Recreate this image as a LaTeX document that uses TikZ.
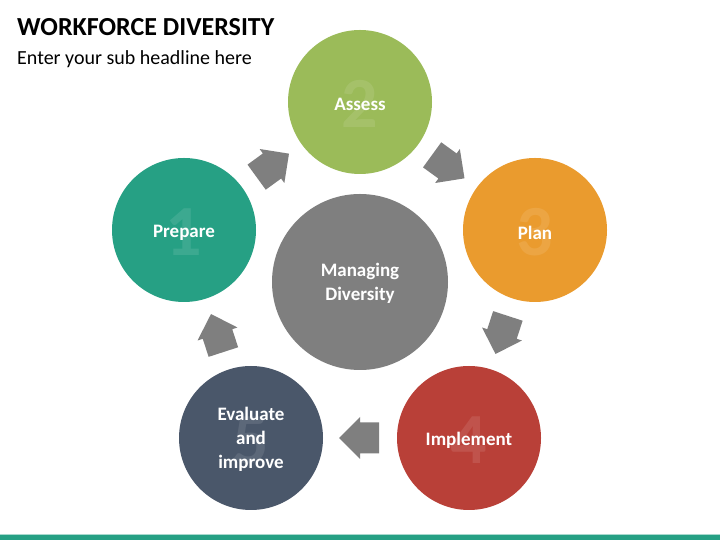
\documentclass[tikz,border=0pt]{standalone}
\usepackage{fontspec}
\setmainfont{Carlito}
\usetikzlibrary{calc}
\definecolor{cteal}{RGB}{38,160,132}
\definecolor{cgreen}{RGB}{155,187,89}
\definecolor{corange}{RGB}{234,155,46}
\definecolor{cred}{RGB}{185,64,56}
\definecolor{cslate}{RGB}{74,87,106}
\definecolor{cgray}{RGB}{127,127,127}
\begin{document}
\begin{tikzpicture}[x=1pt,y=1pt]
\tikzset{
  stagecircle/.style={circle, minimum size=144pt, inner sep=0pt, fill=#1},
  digit/.style={font=\fontsize{72}{72}\selectfont\bfseries, text=white, text opacity=0.1, inner sep=0pt},
  stagetext/.style={font=\fontsize{19}{24}\selectfont\bfseries, text=white, align=center, inner sep=0pt},
  flowarrow/.style={fill=cgray},
}
\useasboundingbox (0,0) rectangle (720,540);
\fill[white] (0,0) rectangle (720,540);
% title
\node[anchor=base west, inner sep=0pt, font=\fontsize{26}{30}\selectfont\bfseries] (title) at (17,504) {WORKFORCE DIVERSITY};
\node[anchor=base west, inner sep=0pt, font=\fontsize{20}{24}\selectfont] (subtitle) at (17,475) {Enter your sub headline here};
% bottom bar
\fill[cteal] (0,0) rectangle (720,5.5);
\draw[cteal!40, line width=0.6pt] (0,6) -- (720,6);
% stages
\node[stagecircle=cgreen] (assess) at (360,438) {};
\node[stagecircle=corange] (plan) at (535,310) {};
\node[stagecircle=cred] (implement) at (469,102) {};
\node[stagecircle=cslate] (evaluate) at (251,102) {};
\node[stagecircle=cteal] (prepare) at (184,310) {};
\node[circle, minimum size=176pt, inner sep=0pt, fill=cgray] (center) at (360,258) {};
% digits
\node[digit] (d1) at ($(prepare)+(0,-2)$) {1};
\node[digit] (d2) at ($(assess)+(0,-2)$) {2};
\node[digit] (d3) at ($(plan)+(0,-2)$) {3};
\node[digit] (d4) at ($(implement)+(0,-2)$) {4};
\node[digit] (d5) at ($(evaluate)+(0,-2)$) {5};
% labels
\node[stagetext] (lprepare) at ($(prepare)+(0,-2.5)$) {Prepare};
\node[stagetext] (lassess) at ($(assess)+(0,-2.5)$) {Assess};
\node[stagetext] (lplan) at ($(plan)+(0,-2.5)$) {Plan};
\node[stagetext] (limplement) at ($(implement)+(0,-2)$) {Implement};
\node[stagetext] (levaluate) at ($(evaluate)+(0,-1.5)$) {Evaluate\\and\\improve};
\node[stagetext] (lcenter) at ($(center)+(0,-1.5)$) {Managing\\Diversity};
% arrows
\coordinate (m1) at ($(prepare)!0.5!(assess)$);
\coordinate (m2) at ($(assess)!0.5!(plan)$);
\coordinate (m3) at ($(plan)!0.5!(implement)$);
\coordinate (m4) at ($(implement)!0.5!(evaluate)$);
\coordinate (m5) at ($(evaluate)!0.5!(prepare)$);
\foreach \m/\a in {m1/36, m2/-36, m3/-108, m4/180, m5/108}{
  \fill[flowarrow, shift={(\m)}, rotate=\a]
    (-19,-15.5) -- (0,-15.5) -- (0,-21) -- (21,0) -- (0,21) -- (0,15.5) -- (-19,15.5) -- cycle;
}
\end{tikzpicture}
\end{document}
